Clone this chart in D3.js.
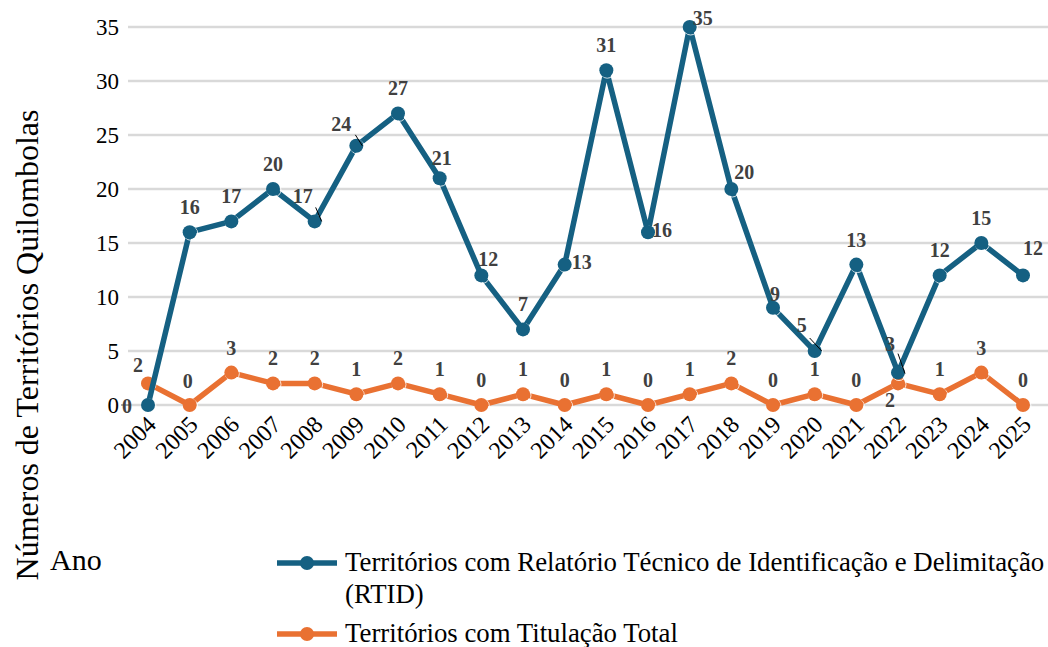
<!DOCTYPE html>
<html>
<head>
<meta charset="utf-8">
<script src="https://cdn.jsdelivr.net/npm/d3@7"></script>
<style>
  svg text { font-family: "Liberation Serif", Tinos, "Times New Roman", serif !important; }
</style>
</head>
<body style="margin:0">
<script>

var w = 1048;
var h = 647;
var serif = "Liberation Serif";

// data
var years = [2004, 2005, 2006, 2007, 2008, 2009, 2010, 2011, 2012, 2013, 2014,
             2015, 2016, 2017, 2018, 2019, 2020, 2021, 2022, 2023, 2024, 2025];
var rtid = [0, 16, 17, 20, 17, 24, 27, 21, 12, 7, 13, 31, 16, 35, 20, 9, 5, 13, 3, 12, 15, 12];
var titulacao = [2, 0, 3, 2, 2, 1, 2, 1, 0, 1, 0, 1, 0, 1, 2, 0, 1, 0, 2, 1, 3, 0];
var yTicks = [0, 5, 10, 15, 20, 25, 30, 35];
var seriesNames = ["Territórios com Relatório Técnico de Identificação e Delimitação", "(RTID)",
                   "Territórios com Titulação Total"];
var yTitle = "Números de Territórios Quilombolas";
var xTitle = "Ano";

var blue = "#156082";
var orange = "#e97132";

// label offsets (dx, dy of label centre from the point), default is above
var rtidLabelPos = {
	2004: [-21, 1], 2008: [-12, -25], 2009: [-15, -22], 2011: [2, -20], 2012: [7, -16],
	2014: [17, -3], 2016: [14, -2], 2017: [13, -9], 2018: [13, -17], 2019: [2, -14],
	2020: [-13, -26], 2022: [-8, -29], 2025: [10, -27]
};
var titLabelPos = { 2004: [-10, -18], 2005: [-2, -24], 2022: [-8, 17] };
// small leader lines [x1, y1, x2, y2] relative to the point
var rtidLeaders = { 2008: [1, -14, 7, 0], 2009: [-1, -11, 6, 0], 2020: [-5, -13, 7, 0], 2022: [0, -19, 7, 1] };

var svg = d3.select("body")
			.append("svg")
			.attr("width", w)
			.attr("height", h)
			.attr("font-family", serif);

var xScale = d3.scalePoint()
				.domain(years)
				.range([148, 1023]);

var yScale = d3.scaleLinear()
				.domain([0, 35])
				.range([405, 27]);

// gridlines
svg.append("g")
	.selectAll("line")
	.data(yTicks)
	.enter()
	.append("line")
	.attr("x1", 128)
	.attr("x2", w)
	.attr("y1", d => yScale(d))
	.attr("y2", d => yScale(d))
	.attr("stroke", "#d9d9d9")
	.attr("stroke-width", 2.5);

// y axis labels
var yAxis = d3.axisLeft(yScale).tickValues(yTicks).tickSize(0).tickPadding(0);
svg.append("g")
	.attr("transform", "translate(119,0)")
	.call(yAxis)
	.attr("font-family", serif)
	.attr("font-size", null)
	.call(g => g.select(".domain").remove())
	.selectAll("text")
	.attr("font-family", serif)
	.style("font-size", "23px")
	.attr("fill", "#000");

// x axis labels
var xAxis = d3.axisBottom(xScale).tickSize(0).tickPadding(0);
svg.append("g")
	.attr("transform", "translate(0,405)")
	.call(xAxis)
	.attr("font-family", serif)
	.attr("font-size", null)
	.call(g => g.select(".domain").remove())
	.selectAll("text")
	.attr("font-family", serif)
	.style("font-size", "24px")
	.attr("fill", "#000")
	.attr("text-anchor", "end")
	.attr("dy", null)
	.attr("y", 0)
	.attr("transform", "translate(9,21) rotate(-45)");

// small tick at zero
svg.append("line")
	.attr("x1", 121).attr("x2", 130)
	.attr("y1", yScale(0)).attr("y2", yScale(0))
	.attr("stroke", "#595959").attr("stroke-width", 1);

var line = d3.line()
	.x((d, i) => xScale(years[i]))
	.y(d => yScale(d));

function drawSeries(values, color, labelPos, leaders) {
	var g = svg.append("g");

	g.append("path")
		.datum(values)
		.attr("fill", "none")
		.attr("stroke", color)
		.attr("stroke-width", 5.5)
		.attr("stroke-linejoin", "round")
		.attr("d", line);

	g.selectAll("circle.shade")
		.data(values)
		.enter()
		.append("circle")
		.attr("cx", (d, i) => xScale(years[i]) + 1)
		.attr("cy", d => yScale(d) + 1)
		.attr("r", 7)
		.attr("fill", "none")
		.attr("stroke", "#ffffff")
		.attr("stroke-opacity", 0.8)
		.attr("stroke-width", 1);

	g.selectAll("circle.pt")
		.data(values)
		.enter()
		.append("circle")
		.attr("cx", (d, i) => xScale(years[i]))
		.attr("cy", d => yScale(d))
		.attr("r", 7)
		.attr("fill", color);

	g.selectAll("line.leader")
		.data(values.map((d, i) => [years[i], d]).filter(d => leaders[d[0]]))
		.enter()
		.append("line")
		.attr("x1", d => xScale(d[0]) + leaders[d[0]][0])
		.attr("y1", d => yScale(d[1]) + leaders[d[0]][1])
		.attr("x2", d => xScale(d[0]) + leaders[d[0]][2])
		.attr("y2", d => yScale(d[1]) + leaders[d[0]][3])
		.attr("stroke", "#000")
		.attr("stroke-width", 1);

	g.selectAll("text")
		.data(values)
		.enter()
		.append("text")
		.text(d => d)
		.attr("x", (d, i) => xScale(years[i]) + (labelPos[years[i]] ? labelPos[years[i]][0] : 0))
		.attr("y", (d, i) => yScale(d) + (labelPos[years[i]] ? labelPos[years[i]][1] : -25) + 7)
		.attr("text-anchor", "middle")
		.attr("font-family", serif)
		.style("font-size", "20px")
		.style("font-weight", "bold")
		.attr("fill", "#404040");
}

drawSeries(titulacao, orange, titLabelPos, {});
drawSeries(rtid, blue, rtidLabelPos, rtidLeaders);

// axis titles
svg.append("text")
	.attr("transform", "translate(38,345) rotate(-90)")
	.attr("text-anchor", "middle")
	.attr("font-family", serif)
	.style("font-size", "32px")
	.attr("fill", "#000")
	.text(yTitle);

svg.append("text")
	.attr("x", 50)
	.attr("y", 570)
	.attr("font-family", serif)
	.style("font-size", "30px")
	.attr("fill", "#000")
	.text(xTitle);

// legend
var legend = svg.append("g");
var legendRows = [
	{ color: blue, y: 563, text: seriesNames[0] },
	{ color: null, y: 595, text: seriesNames[1] },
	{ color: orange, y: 634, text: seriesNames[2] }
];

legendRows.forEach(r => {
	if (r.color) {
		legend.append("line")
			.attr("x1", 277).attr("x2", 337)
			.attr("y1", r.y).attr("y2", r.y)
			.attr("stroke", r.color)
			.attr("stroke-width", 5.5);
		legend.append("circle")
			.attr("cx", 307).attr("cy", r.y)
			.attr("r", 7)
			.attr("fill", r.color);
	}
	legend.append("text")
		.attr("x", 345)
		.attr("y", r.y + 8)
		.attr("font-family", serif)
		.style("font-size", "26.8px")
		.attr("fill", "#000")
		.text(r.text);
});

</script>
</body>
</html>
